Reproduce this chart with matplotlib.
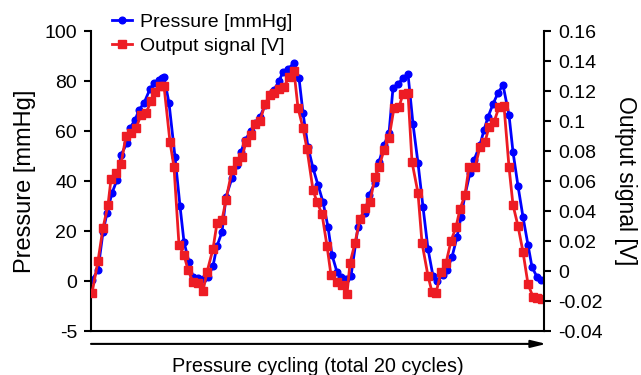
import matplotlib
matplotlib.use("Agg")
import matplotlib.pyplot as plt

plt.rcParams['font.family'] = ['Liberation Sans', 'DejaVu Sans']

# ---- data ----
pressure_t = [0.2, 1.4, 2.4, 3.2, 4.2, 5.2, 6.0, 7.2, 7.8, 8.8, 9.6, 10.6, 11.8, 12.6, 13.6, 14.2, 14.6,
              15.6, 16.8, 17.8, 18.6, 19.6, 20.4, 21.4, 22.4,
              23.4, 24.4, 25.2, 26.2, 27.0, 28.2, 29.2, 30.0, 30.8, 32.0, 32.8, 33.8, 34.8, 35.8, 36.6,
              37.6, 38.4, 39.4, 40.6, 41.6, 42.4, 43.4, 44.4, 45.4, 46.4, 47.4, 48.2, 49.2, 50.0, 51.0, 52.0,
              53.4, 54.8, 55.6, 56.8, 57.6, 58.6, 59.6, 60.4, 61.4, 62.4, 63.4, 64.4, 65.4, 66.4, 67.4, 68.4,
              69.2, 70.4, 71.2, 72.2, 73.2, 74.0, 74.8, 75.8, 76.6, 77.8, 78.6, 79.4, 80.4, 81.4, 82.4,
              83.6, 84.4, 85.4, 86.4, 87.4, 88.2, 89.2, 90.0]
pressure_mmHg = [0.4, 4.4, 19.6, 27.2, 35.2, 40.4, 50.4, 55.2, 61.2, 64.4, 68.4, 71.2, 76.8, 79.2, 80.4, 81.2, 81.6,
                 71.2, 49.6, 30.0, 15.6, 7.6, 1.6, 1.2, 0.8,
                 1.6, 6.0, 14.0, 19.6, 33.6, 41.2, 46.4, 51.6, 56.4, 60.0, 63.2, 65.6, 70.4, 74.8, 76.4,
                 80.0, 83.6, 84.8, 87.2, 81.2, 67.2, 53.6, 45.2, 38.4, 31.6, 21.6, 10.4, 3.6, 1.6, 0.8, 2.0,
                 21.6, 27.2, 34.4, 39.2, 47.6, 54.4, 59.2, 77.2, 78.8, 81.2, 82.8, 62.8, 47.2, 29.6, 12.8, 2.0,
                 0.0, 2.4, 4.4, 9.6, 17.6, 25.6, 34.4, 43.2, 48.4, 54.4, 60.4, 65.6, 70.8, 75.2, 78.4,
                 66.4, 51.6, 38.0, 25.6, 14.4, 5.6, 1.6, 0.4]

signal_t = [0.2, 1.4, 2.4, 3.4, 4.0, 5.0, 6.0, 7.0, 8.0, 9.0, 10.0, 11.0, 12.0, 12.8, 13.8, 14.6,
            15.8, 16.6, 17.6, 18.6, 19.4, 20.4, 21.4, 22.4,
            23.2, 24.4, 25.2, 26.2, 27.0, 28.2, 29.2, 30.2, 31.0, 32.0, 32.8, 33.8, 34.8, 35.8, 36.6,
            37.6, 38.6, 39.6, 40.6, 41.4, 42.4, 43.2, 44.4, 45.2, 46.2, 47.2, 48.0, 49.2, 50.2, 51.2,
            51.8, 52.8, 53.8, 54.8, 55.8, 56.8, 57.6, 58.6, 59.6, 60.6, 61.6, 62.4, 63.4,
            64.2, 65.4, 66.2, 67.4, 68.2, 69.0,
            70.0, 71.0, 72.0, 73.0, 73.8, 74.8, 75.6, 76.8, 77.8, 78.8, 79.6, 80.6, 81.6, 82.6,
            83.6, 84.4, 85.4, 86.4, 87.4, 88.4, 89.2, 90.2]
signal_V = [-0.0147, 0.0067, 0.0287, 0.044, 0.0613, 0.0653, 0.0713, 0.09, 0.092, 0.0953, 0.104, 0.1053,
            0.1133, 0.1193, 0.1233, 0.1233,
            0.086, 0.0693, 0.0173, 0.0107, 0.0007, -0.0073, -0.008, -0.0133,
            -0.0007, 0.0147, 0.032, 0.034, 0.0473, 0.0673, 0.0733, 0.076, 0.086, 0.0907, 0.098, 0.1,
            0.1113, 0.1173, 0.1187, 0.1213, 0.1227, 0.1293, 0.1333, 0.1087, 0.0953, 0.0813, 0.054,
            0.046, 0.038, 0.0167, -0.0027, -0.0073, -0.0093, -0.0153,
            0.0053, 0.0187, 0.0347, 0.042, 0.046, 0.0627, 0.0693, 0.0807, 0.0887, 0.1087, 0.1093,
            0.118, 0.1187, 0.0727, 0.052, 0.0187, -0.0033, -0.014, -0.0147,
            -0.0007, 0.0053, 0.02, 0.0293, 0.0413, 0.0507, 0.0693, 0.0693, 0.0827, 0.086, 0.096,
            0.0993, 0.1093, 0.11, 0.0693, 0.044, 0.03, 0.0127, -0.0087, -0.0173, -0.018, -0.0187]

left_tick_pos = [-20, 0, 20, 40, 60, 80, 100]
left_tick_labels = ['-5', '0', '20', '40', '60', '80', '100']
right_ticks = [-0.04, -0.02, 0, 0.02, 0.04, 0.06, 0.08, 0.1, 0.12, 0.14, 0.16]
right_tick_labels = ['-0.04', '-0.02', '0', '0.02', '0.04', '0.06', '0.08', '0.1', '0.12', '0.14', '0.16']

BLUE = '#0000FF'
RED = '#ED1C24'

fig = plt.figure(figsize=(6.41, 3.75), dpi=100)
ax = fig.add_axes([91/641, 1-331/375, (544-91)/641, 300/375])
ax2 = ax.twinx()

l1, = ax.plot(pressure_t, pressure_mmHg, '-o', color=BLUE, lw=2.0, ms=4.8,
              label='Pressure [mmHg]')
l2, = ax2.plot(signal_t, signal_V, '-s', color=RED, lw=2.0, ms=5.3,
               label='Output signal [V]')

ax.set_xlim(0, 90.6)
ax.set_ylim(-20, 100)
ax2.set_ylim(-0.04, 0.16)

for a in (ax, ax2):
    a.spines['top'].set_visible(False)
    for s in a.spines.values():
        s.set_linewidth(1.5)
ax.spines['right'].set_visible(False)
ax2.spines['left'].set_visible(False)
ax2.spines['bottom'].set_visible(False)

ax.set_xticks([])
ax.set_yticks(left_tick_pos)
ax.set_yticklabels(left_tick_labels)
ax2.set_yticks(right_ticks)
ax2.set_yticklabels(right_tick_labels)
ax.tick_params(axis='y', direction='out', length=5, width=1.5, labelsize=14, pad=5)
ax2.tick_params(axis='y', direction='out', length=5, width=1.5, labelsize=14, pad=5)

ax.set_ylabel('Pressure [mmHg]', fontsize=17, labelpad=6)
ax2.set_ylabel('Output signal [V]', fontsize=16.5, rotation=270, va='bottom', labelpad=8)
ax.set_xlabel('Pressure cycling (total 20 cycles)', fontsize=14.3, labelpad=19)

ax.annotate('', xy=(1.005, -0.043), xytext=(0.0, -0.043), xycoords='axes fraction',
            textcoords='axes fraction',
            arrowprops=dict(arrowstyle='-|>,head_length=0.9,head_width=0.22', color='black',
                            lw=1.5, shrinkA=0, shrinkB=0))

fig.legend(handles=[l1, l2], loc='upper left', bbox_to_anchor=(112/641, 1-13/375),
           frameon=False, fontsize=14, handlelength=1.05, handletextpad=0.38,
           labelspacing=0.36, borderpad=0, borderaxespad=0)

fig.savefig('out.png', dpi=100)
